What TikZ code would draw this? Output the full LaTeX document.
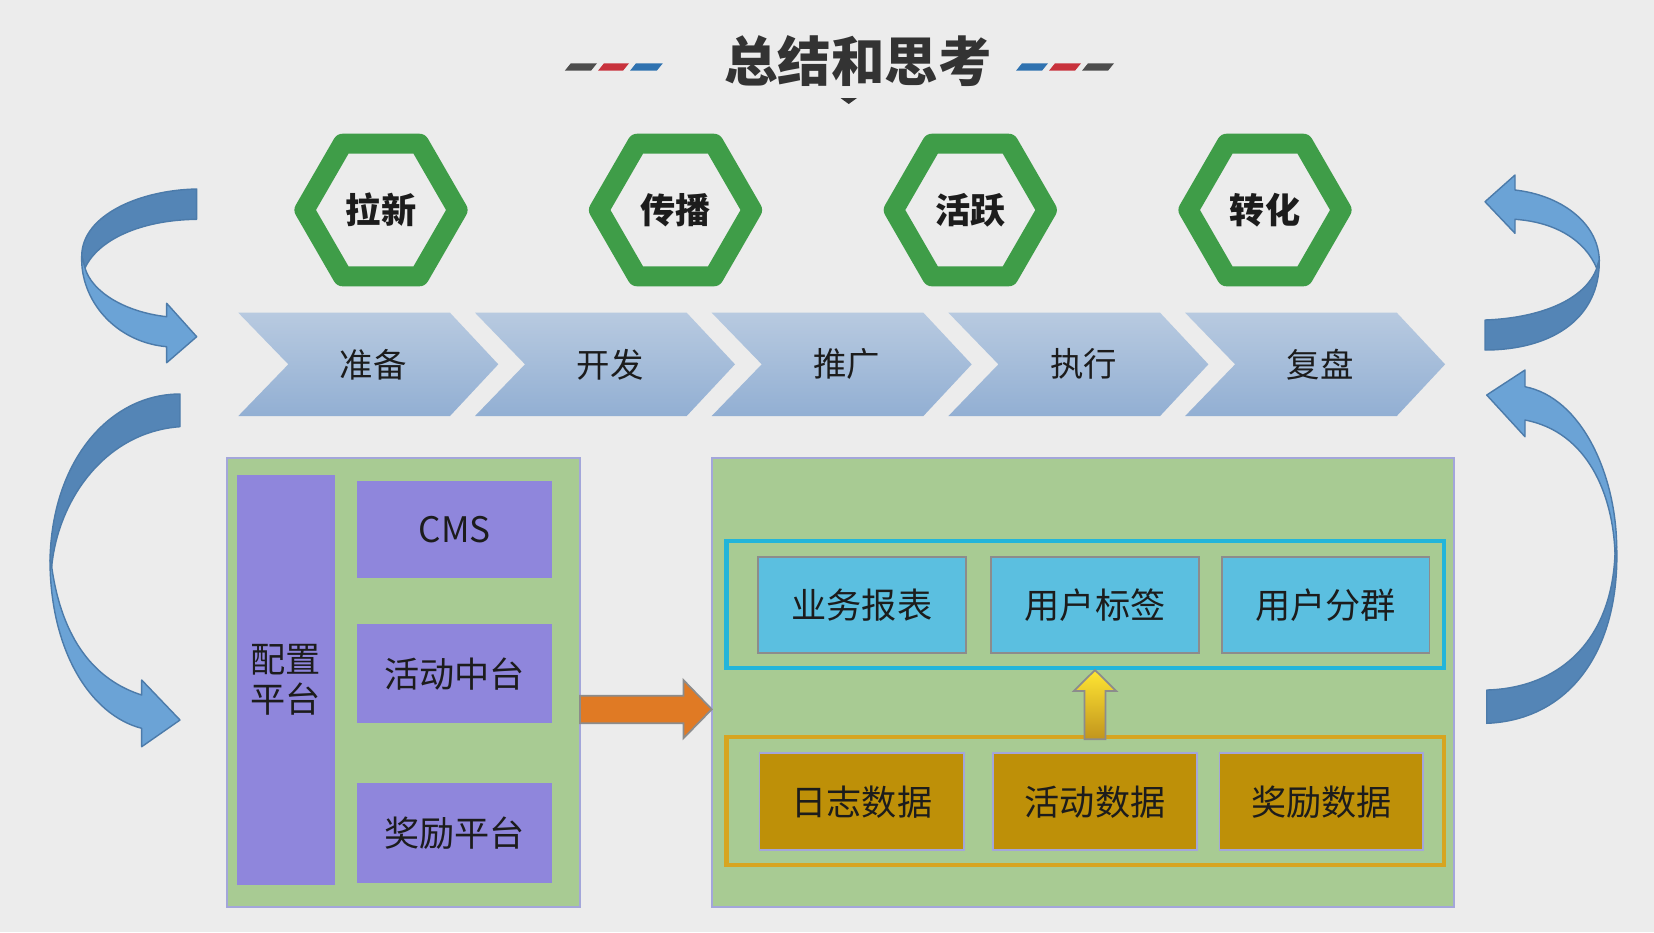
\documentclass[tikz,border=0pt]{standalone}
\usepackage{fontspec}
\setmainfont{Noto Sans CJK SC}
\usepackage{xcolor}
\usepackage{tikz}
\usetikzlibrary{shapes.geometric,calc}
\definecolor{bgcol}{HTML}{ECECEC}
\definecolor{titlegray}{HTML}{333333}
\definecolor{dashgray}{HTML}{4D4D4D}
\definecolor{dashred}{HTML}{C8323C}
\definecolor{dashblue}{HTML}{2F72B0}
\definecolor{hexgreen}{HTML}{3F9D48}
\definecolor{chevtop}{HTML}{B8CAE0}
\definecolor{chevbot}{HTML}{92AFD3}
\definecolor{bandback}{HTML}{5485B6}
\definecolor{bandfront}{HTML}{6BA3D6}
\definecolor{bandline}{HTML}{4C7BAA}
\definecolor{boxgreen}{HTML}{A8CB93}
\definecolor{boxline}{HTML}{A3A6DA}
\definecolor{purplebox}{HTML}{8F86DC}
\definecolor{skybox}{HTML}{5BBFE0}
\definecolor{skyline}{HTML}{22B5DA}
\definecolor{goldbox}{HTML}{BE9008}
\definecolor{goldline}{HTML}{D7A520}
\definecolor{arrorange}{HTML}{E07A24}
\definecolor{inktext}{HTML}{1C1C1C}

\begin{document}
\begin{tikzpicture}[x=0.01cm,y=-0.01cm,
  hexa/.style={regular polygon,regular polygon sides=6,minimum size=1.5cm,draw=hexgreen,line width=0.2cm,line join=round,
    font=\fontsize{10}{12}\selectfont\bfseries,text=inktext},
  chev/.style={top color=chevtop,bottom color=chevbot,draw=none},
  steplab/.style={font=\fontsize{9.5}{11}\selectfont,text=inktext},
  band/.style={draw=bandline,line width=0.4pt,line join=round},
  grnbox/.style={draw=boxline,line width=0.6pt,fill=boxgreen,inner sep=0pt,outer sep=0pt},
  purbox/.style={fill=purplebox,inner sep=0pt,font=\fontsize{10}{11.4}\selectfont,text=inktext,align=center},
  grp/.style={draw,line width=1.2pt,inner sep=0pt,outer sep=0pt},
  skyb/.style={draw=black!45,line width=0.5pt,fill=skybox,inner sep=0pt,font=\fontsize{10}{12}\selectfont,text=inktext,
    minimum height=0.96cm},
  goldb/.style={draw=boxline,line width=0.5pt,fill=goldbox,inner sep=0pt,font=\fontsize{10}{12}\selectfont,text=inktext,
    minimum height=0.967cm}]
  \useasboundingbox (0,0) rectangle (1654,932);
  \fill[bgcol] (0,0) rectangle (1654,932);
  % title with its dashes
  \node[font=\fontsize{15.2}{18}\selectfont\bfseries,text=titlegray] (ttl) at (858,61) {总结和思考};
  \fill[dashgray] (564.8,70.7) -- (570.8,63.3) -- (597,63.3) -- (591,70.7) -- cycle;
  \fill[dashred] (598,70.7) -- (604,63.3) -- (629,63.3) -- (623,70.7) -- cycle;
  \fill[dashblue] (630,70.7) -- (636,63.3) -- (662.8,63.3) -- (656.8,70.7) -- cycle;
  \fill[dashblue] (1016,70.7) -- (1022,63.3) -- (1048,63.3) -- (1042,70.7) -- cycle;
  \fill[dashred] (1049,70.7) -- (1055,63.3) -- (1081,63.3) -- (1075,70.7) -- cycle;
  \fill[dashgray] (1082,70.7) -- (1088,63.3) -- (1114,63.3) -- (1108,70.7) -- cycle;
  \fill[titlegray] (840.5,98) -- (857,98) -- (848.7,104) -- cycle;
  % hexagons
  \node[hexa] (lx) at (381,210) {拉新};
  \node[hexa] (cb) at (675.5,210) {传播};
  \node[hexa] (hy) at (970.3,210) {活跃};
  \node[hexa] (zh) at (1265,210) {转化};
  % chevrons
  \shade[chev] (238.3,312.7) -- ++(211.7,0) -- ++(48.3,51.6) -- ++(-48.3,51.7) -- ++(-211.7,0) -- ++(50,-51.7) -- cycle;
  \shade[chev] (475,312.7) -- ++(211.7,0) -- ++(48.3,51.6) -- ++(-48.3,51.7) -- ++(-211.7,0) -- ++(50,-51.7) -- cycle;
  \shade[chev] (711.7,312.7) -- ++(211.7,0) -- ++(48.3,51.6) -- ++(-48.3,51.7) -- ++(-211.7,0) -- ++(50,-51.7) -- cycle;
  \shade[chev] (948.4,312.7) -- ++(211.7,0) -- ++(48.3,51.6) -- ++(-48.3,51.7) -- ++(-211.7,0) -- ++(50,-51.7) -- cycle;
  \shade[chev] (1185.1,312.7) -- ++(211.7,0) -- ++(48.3,51.6) -- ++(-48.3,51.7) -- ++(-211.7,0) -- ++(50,-51.7) -- cycle;
  \node[steplab] (zb) at (373.3,364.3) {准备};
  \node[steplab] (kf) at (610,364.3) {开发};
  \node[steplab] (tg) at (846.7,364.3) {推广};
  \node[steplab] (zx) at (1083.4,364.3) {执行};
  \node[steplab] (fp) at (1320.1,364.3) {复盘};
  % curved arrows, left side
  \fill[bandback,band] (196.7,189) .. controls (140,190) and (82,215) .. (81.7,256) -- (85,268)
    .. controls (98,240) and (140,220) .. (196.7,219.3) -- cycle;
  \fill[bandfront,band] (81.7,256) .. controls (80,300) and (115,342) .. (166.7,346.7) -- (166.7,362.7) -- (196.7,336.7)
    -- (166.7,303.3) -- (166.7,316.7) .. controls (125,312) and (92,292) .. (85,268) -- cycle;
  \fill[bandback,band] (180,394) .. controls (110,394) and (52,460) .. (50,560) -- (51.7,566.7)
    .. controls (58,500) and (105,432) .. (180,426.7) -- cycle;
  \fill[bandfront,band] (50,560) .. controls (50,650) and (90,715) .. (141.7,728.3) -- (141.7,746.7) -- (180,720)
    -- (141.7,680) -- (141.7,695) .. controls (95,680) and (62,640) .. (51.7,566.7) -- cycle;
  % curved arrows, right side
  \fill[bandfront,band] (1485,201.7) -- (1515,175) -- (1515,190) .. controls (1560,195) and (1598,222) .. (1599.3,260)
    -- (1596.7,268.3) .. controls (1585,240) and (1555,222) .. (1515,219.3) -- (1515,233.3) -- cycle;
  \fill[bandback,band] (1599.3,260) .. controls (1600,320) and (1550,350) .. (1485,350) -- (1485,320)
    .. controls (1540,318) and (1585,300) .. (1596.7,268.3) -- cycle;
  \fill[bandfront,band] (1486.7,395) -- (1525,370) -- (1525,386.7) .. controls (1582,398) and (1616,475) .. (1616.7,546.7)
    -- (1615,553.3) .. controls (1613,495) and (1588,432) .. (1525,420) -- (1525,436.7) -- cycle;
  \fill[bandback,band] (1616.7,546.7) .. controls (1620,650) and (1570,720) .. (1486.7,723.3) -- (1486.7,690)
    .. controls (1560,688) and (1612,640) .. (1615,553.3) -- cycle;
  % config platform
  \node[grnbox,minimum width=3.527cm,minimum height=4.48cm] (cfgbox) at (403.65,682.5) {};
  \node[purbox,minimum width=0.983cm,minimum height=4.10cm] (pzbox) at (285.85,680) {配置\\平台};
  \node[purbox,minimum width=1.947cm,minimum height=0.976cm] (cmsbox) at (454.65,529.5) {CMS};
  \node[purbox,minimum width=1.947cm,minimum height=0.99cm] (hdbox) at (454.65,673.7) {活动中台};
  \node[purbox,minimum width=1.947cm,minimum height=0.99cm] (jlbox) at (454.65,833) {奖励平台};
  % analysis side
  \node[grnbox,minimum width=7.415cm,minimum height=4.48cm] (anabox) at (1082.75,682.5) {};
  \node[grp,draw=skyline,minimum width=7.173cm,minimum height=1.276cm] (appgrp) at (1085.35,604.5) {};
  \node[skyb,minimum width=2.074cm] (bbbox) at (861.9,605.3) {业务报表};
  \node[skyb,minimum width=2.085cm] (tagbox) at (1095,605.3) {用户标签};
  \node[skyb,minimum width=2.075cm] (fqbox) at (1325.75,605.3) {用户分群};
  \node[grp,draw=goldline,minimum width=7.173cm,minimum height=1.277cm] (datgrp) at (1085.35,801.2) {};
  \node[goldb,minimum width=2.046cm] (rzbox) at (861.9,801.7) {日志数据};
  \node[goldb,minimum width=2.035cm] (hdsj) at (1095,801.7) {活动数据};
  \node[goldb,minimum width=2.036cm] (jlsj) at (1321.4,801.7) {奖励数据};
  % block arrows
  \path (cfgbox.east) ++(0,26.8) coordinate (oa);
  \path (anabox.west) ++(0,26.8) coordinate (ob);
  \fill[arrorange,draw=black!45,line width=0.5pt] ($(oa)+(0,-13.5)$) -- ($(ob)+(-28.4,-13.5)$) -- ($(ob)+(-28.4,-29.3)$) -- (ob)
    -- ($(ob)+(-28.4,29)$) -- ($(ob)+(-28.4,14)$) -- ($(oa)+(0,14)$) -- cycle;
  \coordinate (ya) at (tagbox.south |- datgrp.north);
  \coordinate (yb) at (tagbox.south |- appgrp.south);
  \shade[top color=yellow!75!orange!80,bottom color=goldline!90!black,draw=black!45,line width=0.5pt]
    ($(ya)+(-10.4,2)$) -- ($(yb)+(-10.4,22.7)$) -- ($(yb)+(-21.3,22.7)$) -- ($(yb)+(0,1.7)$)
    -- ($(yb)+(21.3,22.7)$) -- ($(yb)+(10.4,22.7)$) -- ($(ya)+(10.4,2)$) -- cycle;
\end{tikzpicture}
\end{document}
